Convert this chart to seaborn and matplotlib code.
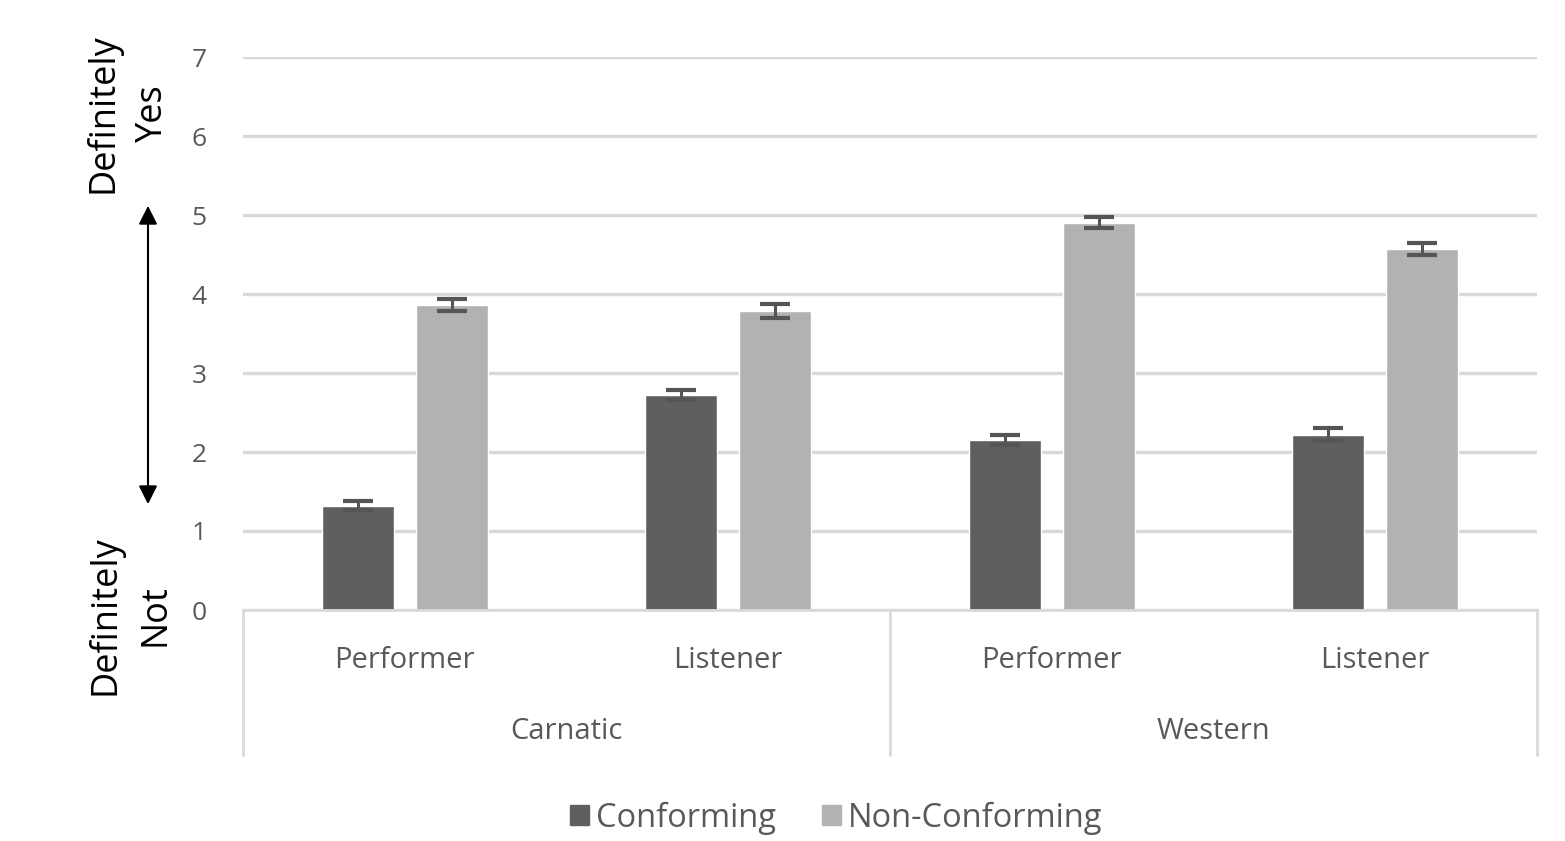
import numpy as np
import pandas as pd
import matplotlib
matplotlib.use("Agg")
import matplotlib.pyplot as plt
import seaborn as sns

# ---- data ----
genres = ["Carnatic", "Carnatic", "Western", "Western"]
roles = ["Performer", "Listener", "Performer", "Listener"]
conforming = [1.32, 2.72, 2.15, 2.22]
non_conforming = [3.86, 3.78, 4.90, 4.57]
conforming_se = [0.06, 0.06, 0.06, 0.08]
non_conforming_se = [0.08, 0.09, 0.07, 0.07]
conditions = ["Conforming", "Non-Conforming"]
colors = ["#5f5f5f", "#b2b2b2"]

cats = [f"{g}\n{r}" for g, r in zip(genres, roles)]
df = pd.DataFrame({
    "cat": cats * 2,
    "cond": [conditions[0]] * 4 + [conditions[1]] * 4,
    "val": conforming + non_conforming,
    "se": conforming_se + non_conforming_se,
})

sns.set_style("white")
plt.rcParams["font.family"] = ["Open Sans", "DejaVu Sans"]
TXT = "#595959"

fig = plt.figure(figsize=(15.65, 8.41), dpi=100)
ax = fig.add_axes([243 / 1565, 1 - 610 / 841, (1537 - 243) / 1565, (610 - 57) / 841])

sns.barplot(data=df, x="cat", y="val", hue="cond", palette=colors,
            order=cats, hue_order=conditions, width=0.58, gap=0.23,
            errorbar=None, ax=ax, legend=False)

# error bars at each bar centre
for cont, cond in zip(ax.containers, conditions):
    sub = df[df["cond"] == cond]
    xs = [p.get_x() + p.get_width() / 2 for p in cont.patches]
    ax.errorbar(xs, sub["val"], yerr=sub["se"], fmt="none",
                ecolor="#555555", elinewidth=2.2, capsize=11, capthick=3, zorder=5)

ax.set_ylim(0, 7)
ax.set_xlim(-0.5, 3.5)
ax.set_yticks(range(8))
ax.yaxis.grid(True, color="#d9d9d9", linewidth=2.4)
ax.set_axisbelow(True)
for s in ["top", "right", "left"]:
    ax.spines[s].set_visible(False)
ax.spines["bottom"].set_color("#d9d9d9")
ax.spines["bottom"].set_linewidth(2)
ax.tick_params(axis="y", length=0, pad=26, labelsize=19, labelcolor=TXT)
ax.set_xticks(range(4))
ax.set_xticklabels(roles)
ax.tick_params(axis="x", length=0, pad=26, labelsize=21, labelcolor=TXT)
ax.set_xlabel("")
ax.set_ylabel("")

# category box and outer group labels
trans = ax.get_xaxis_transform()
for xv in [-0.5, 1.5, 3.5]:
    ax.plot([xv, xv], [0, -0.262], transform=trans, color="#d9d9d9",
            linewidth=2, clip_on=False)
for xv, g in zip([0.5, 2.5], ["Carnatic", "Western"]):
    ax.text(xv, -0.22, g, transform=trans, ha="center", va="center",
            fontsize=21, color=TXT)

# left scale annotations
fig.text(128 / 1565, 1 - 113 / 841, "Definitely\nYes", rotation=90,
         ha="center", va="center", fontsize=26, color="black", linespacing=1.5)
fig.text(130 / 1565, 1 - 615 / 841, "Definitely\nNot", rotation=90,
         ha="center", va="center", fontsize=26, color="black", linespacing=1.5)
fig.add_artist(matplotlib.patches.FancyArrowPatch(
    (148 / 1565, 1 - 507 / 841), (148 / 1565, 1 - 203 / 841),
    transform=fig.transFigure, arrowstyle="<|-|>", mutation_scale=28,
    color="black", linewidth=1.5))

# legend
handles = [matplotlib.patches.Patch(color=c) for c in colors]
leg = fig.legend(handles, conditions, loc="center", bbox_to_anchor=(836 / 1565, 1 - 818 / 841),
                 ncol=2, frameon=False, fontsize=23.5, handlelength=0.6, handleheight=0.6,
                 handletextpad=0.2, columnspacing=1.4)
for t in leg.get_texts():
    t.set_color(TXT)

fig.savefig("out.png", dpi=100)
